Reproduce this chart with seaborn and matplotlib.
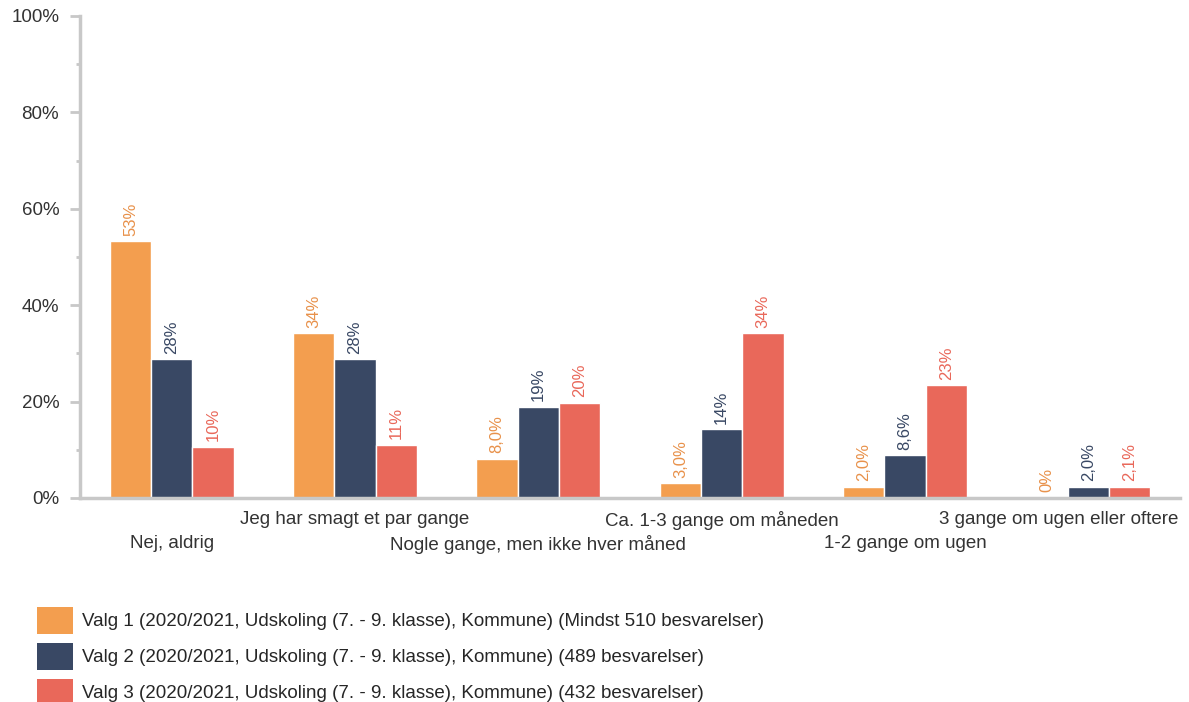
import matplotlib
matplotlib.use("Agg")
import matplotlib.pyplot as plt
import seaborn as sns
import pandas as pd
from matplotlib.patches import Patch
from matplotlib.ticker import MultipleLocator, FuncFormatter

categories = ["Nej, aldrig", "Jeg har smagt et par gange", "Nogle gange, men ikke hver måned",
              "Ca. 1-3 gange om måneden", "1-2 gange om ugen", "3 gange om ugen eller oftere"]
series = ["Valg 1 (2020/2021, Udskoling (7. - 9. klasse), Kommune) (Mindst 510 besvarelser)",
          "Valg 2 (2020/2021, Udskoling (7. - 9. klasse), Kommune) (489 besvarelser)",
          "Valg 3 (2020/2021, Udskoling (7. - 9. klasse), Kommune) (432 besvarelser)"]
valg1 = [53.3, 34.2, 8.1, 3.1, 2.3, 0.0]
valg2 = [28.8, 28.8, 18.9, 14.3, 8.9, 2.3]
valg3 = [10.6, 11.0, 19.7, 34.2, 23.4, 2.3]
labels1 = ["53%", "34%", "8,0%", "3,0%", "2,0%", "0%"]
labels2 = ["28%", "28%", "19%", "14%", "8,6%", "2,0%"]
labels3 = ["10%", "11%", "20%", "34%", "23%", "2,1%"]
colors = ["#F39E4F", "#394864", "#E9685A"]
label_colors = ["#E8914A", "#394864", "#E9685A"]

rows = []
for s, vals in zip(series, [valg1, valg2, valg3]):
    for c, v in zip(categories, vals):
        rows.append({"cat": c, "val": v, "series": s})
df = pd.DataFrame(rows)

sns.set_style("white")
plt.rcParams['font.family'] = ['Liberation Sans', 'DejaVu Sans']

fig = plt.figure(figsize=(11.89, 7.02), dpi=100)
ax = fig.add_axes([80/1189, 1-498/702, 1100/1189, 482/702])

sns.barplot(data=df, x="cat", y="val", hue="series", order=categories, hue_order=series,
            palette=colors, saturation=1, width=0.675, edgecolor="white", linewidth=1,
            errorbar=None, legend=False, ax=ax)

for cont, labs, lc in zip(ax.containers, [labels1, labels2, labels3], label_colors):
    ax.bar_label(cont, labels=labs, rotation=90, padding=4, color=lc, fontsize=12)

ax.set_ylim(0, 100)
ax.set_xlim(-0.5, 5.5)
ax.yaxis.set_major_locator(MultipleLocator(20))
ax.yaxis.set_minor_locator(MultipleLocator(10))
ax.yaxis.set_major_formatter(FuncFormatter(lambda v, p: f"{int(v)}%"))
ax.tick_params(axis="y", which="major", length=7, width=2, color="#C8C8C8", pad=8,
               labelsize=13.5, labelcolor="#333333", left=True)
ax.tick_params(axis="y", which="minor", length=3, width=2, color="#C8C8C8", left=True)
ax.set_xticks(range(len(categories)))
ax.set_xticklabels([])
ax.tick_params(axis="x", length=0)
n = len(categories)
for i, c in enumerate(categories):
    dy = -9 if i % 2 == 1 else -27
    if i == n - 1:
        ax.annotate(c, xy=(1, 0), xycoords="axes fraction", xytext=(-1, dy),
                    textcoords="offset points", ha="right", va="top",
                    fontsize=13.5, color="#333333")
    else:
        ax.annotate(c, xy=(i, 0), xycoords=("data", "axes fraction"), xytext=(0, dy),
                    textcoords="offset points", ha="center", va="top",
                    fontsize=13.5, color="#333333")
ax.set_xlabel("")
ax.set_ylabel("")
for s in ["top", "right"]:
    ax.spines[s].set_visible(False)
for s in ["left", "bottom"]:
    ax.spines[s].set_color("#C8C8C8")
    ax.spines[s].set_linewidth(2.5)

handles = [Patch(facecolor=c, edgecolor="none") for c in colors]
fig.legend(handles, series, loc="upper left", bbox_to_anchor=(29/1189, 1-599/702),
           frameon=False, fontsize=13.5, handlelength=1.92, handleheight=1.87,
           labelspacing=0.46, handletextpad=0.5, borderaxespad=0)

fig.savefig("out.png", dpi=100)
